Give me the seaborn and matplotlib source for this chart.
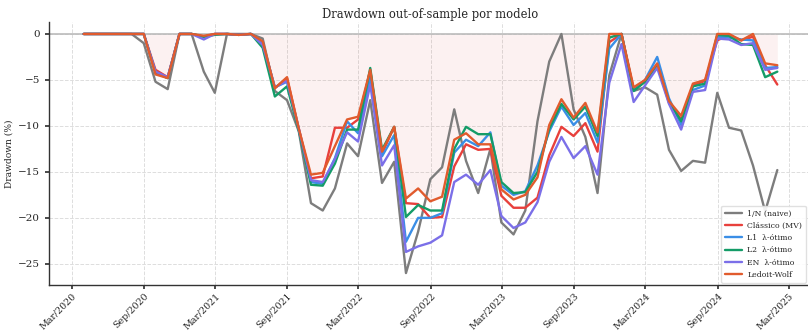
import numpy as np
import pandas as pd
import matplotlib
matplotlib.use("Agg")
import matplotlib.pyplot as plt
import matplotlib.dates as mdates
import seaborn as sns

# Month-end evaluation dates of the out-of-sample window
dates = pd.date_range("2020-03-31", "2025-01-31", freq="ME")

# Drawdown (%) per portfolio model
dd_naive = [0, 0, 0, 0, 0, -1.0, -5.2, -6.0, 0, 0, -4.1, -6.4, 0, 0, 0, -0.5,
            -6.2, -7.2, -10.6, -18.4, -19.2, -16.8, -11.9, -13.3, -7.2, -16.2,
            -13.9, -26.0, -21.5, -15.8, -14.5, -8.2, -13.8, -17.3, -12.5, -20.5,
            -21.8, -19.2, -9.5, -3.0, 0, -8.2, -11.2, -17.3, -4.5, 0, -6.2, -5.8,
            -6.6, -12.6, -14.9, -13.8, -14.0, -6.4, -10.2, -10.5, -14.3, -19.3, -14.8]
dd_mv = [0, 0, 0, 0, 0, 0, -3.9, -4.7, 0, 0, -0.3, 0, 0, -0.1, 0, -1.0,
         -5.9, -4.8, -10.3, -15.7, -15.5, -10.2, -10.2, -9.3, -4.0, -13.0,
         -10.1, -18.4, -18.5, -20.0, -19.9, -14.4, -12.0, -12.6, -12.5, -17.6,
         -18.9, -18.9, -17.8, -13.2, -10.1, -11.1, -9.7, -12.8, -0.9, 0, -6.0, -5.2,
         -3.3, -7.5, -9.3, -5.6, -5.1, -0.7, -0.1, -0.7, -0.3, -3.4, -5.5]
dd_l1 = [0, 0, 0, 0, 0, 0, -4.2, -4.8, 0, 0, -0.3, 0, 0, -0.1, 0, -1.0,
         -5.8, -5.2, -10.4, -16.1, -16.3, -13.5, -9.5, -10.8, -4.8, -13.3,
         -11.0, -22.6, -20.0, -20.0, -19.5, -12.9, -11.5, -12.2, -10.7, -16.5,
         -17.5, -17.1, -14.3, -10.6, -7.9, -9.9, -8.6, -11.8, -1.6, 0, -6.2, -5.0,
         -2.5, -7.0, -9.9, -6.1, -5.6, -0.3, -0.4, -0.6, -0.7, -3.7, -3.6]
dd_l2 = [0, 0, 0, 0, 0, 0, -4.2, -4.8, 0, 0, -0.3, -0.1, 0, -0.1, 0, -1.5,
         -6.8, -5.7, -10.5, -16.4, -16.5, -14.1, -10.4, -10.4, -3.7, -12.6,
         -10.1, -19.9, -18.6, -19.2, -19.2, -12.5, -10.1, -10.9, -10.9, -16.1,
         -17.3, -17.2, -15.0, -10.3, -7.6, -9.3, -7.9, -11.1, -0.4, 0, -6.2, -5.2,
         -3.4, -7.3, -9.5, -5.7, -5.4, -0.1, -0.2, -1.1, -1.2, -4.7, -4.1]
dd_en = [0, 0, 0, 0, 0, 0, -4.1, -4.7, 0, 0, -0.6, 0, 0, -0.1, 0, -1.2,
         -5.8, -5.1, -10.3, -15.9, -16.1, -13.6, -10.7, -11.7, -5.5, -14.3,
         -12.1, -23.7, -23.1, -22.7, -21.9, -16.1, -15.3, -16.4, -14.8, -19.8,
         -21.1, -20.5, -18.3, -13.9, -11.2, -13.5, -12.2, -15.3, -5.3, -1.1, -7.4, -5.6,
         -3.7, -7.6, -10.4, -6.3, -6.1, -0.5, -0.6, -1.2, -1.0, -3.9, -3.7]
dd_lw = [0, 0, 0, 0, 0, 0, -4.4, -4.8, 0, 0, -0.2, 0, 0, -0.1, 0, -0.8,
         -5.9, -4.7, -10.3, -15.3, -15.1, -12.2, -9.3, -9.0, -3.9, -12.8,
         -10.1, -17.9, -16.8, -18.2, -17.7, -11.5, -10.8, -12.0, -12.0, -16.9,
         -18.0, -17.5, -15.6, -9.9, -7.1, -9.1, -7.5, -10.7, 0, 0, -5.8, -5.0,
         -3.2, -7.3, -8.9, -5.4, -5.0, 0, 0, -0.7, 0, -3.2, -3.4]

labels = ["1/N (naive)", "Clássico (MV)", "L1  λ-ótimo", "L2  λ-ótimo",
          "EN  λ-ótimo", "Ledoit-Wolf"]
series = [dd_naive, dd_mv, dd_l1, dd_l2, dd_en, dd_lw]
colors = ["#7d7d7d", "#e8403c", "#3a8ee6", "#149c68", "#7b6fe8", "#e15b2d"]

df = pd.concat(
    [pd.DataFrame({"date": dates, "drawdown": vals, "modelo": lab})
     for lab, vals in zip(labels, series)],
    ignore_index=True,
)

sns.set_theme(style="whitegrid",
              rc={"grid.linestyle": "--", "grid.color": "#dddddd",
                  "grid.linewidth": 0.7})
plt.rcParams["font.family"] = ["DejaVu Serif"]

fig = plt.figure(figsize=(8.08, 3.32), dpi=100)
ax = fig.add_axes([49 / 808, 47 / 332, 763 / 808, 263 / 332])

ax.fill_between(dates, dd_lw, 0, color="#d9534f", alpha=0.08, linewidth=0)
ax.axhline(0, color="#bbbbbb", linewidth=1.2, zorder=1)

sns.lineplot(data=df, x="date", y="drawdown", hue="modelo",
             palette=dict(zip(labels, colors)), linewidth=1.7, ax=ax)

ax.xaxis.set_major_locator(mdates.MonthLocator(bymonth=[3, 9]))
ax.xaxis.set_major_formatter(mdates.DateFormatter("%b/%Y"))
ax.tick_params(axis="x", pad=1.5)
plt.setp(ax.get_xticklabels(), rotation=45, ha="right",
         rotation_mode="anchor", fontsize=6.8)
ax.tick_params(axis="y", labelsize=7.5)
ax.tick_params(axis="both", length=3, color="#333333", bottom=True, left=True)

ax.set_xlabel("")
ax.set_ylabel("Drawdown (%)", fontsize=6.6, labelpad=3)
ax.set_title("Drawdown out-of-sample por modelo", fontsize=8.3, pad=3)

sns.despine(ax=ax)
for side in ("left", "bottom"):
    ax.spines[side].set_color("#333333")
    ax.spines[side].set_linewidth(1.0)

handles, labs = ax.get_legend_handles_labels()
leg = ax.legend(handles, labs, loc="lower right", fontsize=5.6,
                bbox_to_anchor=(0.992, 0.008), borderaxespad=0,
                frameon=True, framealpha=0.9, borderpad=0.5,
                handlelength=2.2, handletextpad=0.6, labelspacing=0.55)
leg.get_frame().set_edgecolor("#dddddd")

fig.savefig("out.png", dpi=100)
